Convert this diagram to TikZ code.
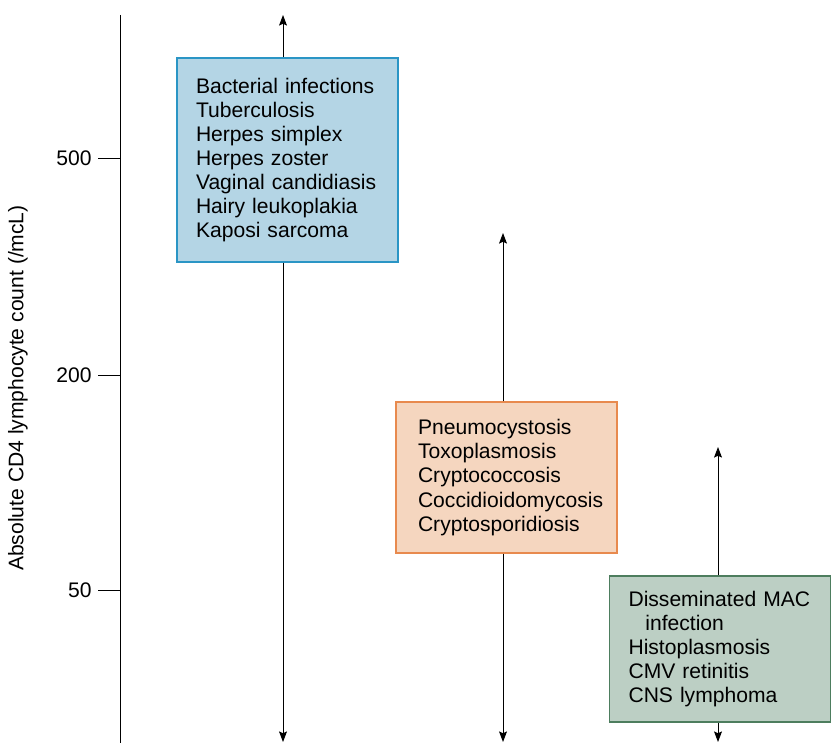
\documentclass[tikz,border=0pt]{standalone}
\usepackage{fontspec}
\setmainfont{Liberation Sans}
\usepackage{tikz}
\usetikzlibrary{arrows.meta, positioning}
\usepackage{xcolor}
\definecolor{earlyfill}{HTML}{B4D5E5}
\definecolor{earlyline}{HTML}{2A95C5}
\definecolor{midfill}{HTML}{F5D6BF}
\definecolor{midline}{HTML}{E88A4E}
\definecolor{latefill}{HTML}{BCCFC4}
\definecolor{lateline}{HTML}{4D7D5E}

\begin{document}
\begin{tikzpicture}[
    x=0.02cm, y=-0.02cm,
    box/.style={draw, line width=0.7pt, minimum width=4.42cm, inner xsep=0.38cm, text width=3.66cm, align=left, font=\fontsize{12}{13.7}\selectfont},
    arr/.style={-{Stealth[length=6pt, width=4.5pt, inset=1pt]}, line width=0.5pt},
    lbl/.style={font=\fontsize{12}{14}\selectfont}
]
\useasboundingbox (0,0) rectangle (834,743);

% axis with ticks
\coordinate (axtop) at (120,15);
\coordinate (axbot) at (120,743);
\draw[line width=0.5pt] (axtop) -- (axbot);
\foreach \y/\v in {158/500, 375/200, 590/50} {
    \coordinate (tick\v) at (98,\y);
    \draw[line width=0.5pt] (tick\v) -- (axtop |- tick\v);
    \node[lbl, anchor=east, inner sep=0pt] (lab\v) at (92,\y) {\v};
}
\node[lbl, rotate=90] (ylabel) at (18,388) {Absolute CD4 lymphocyte count (/mcL)};

% ranges
\node[box, fill=earlyfill, draw=earlyline, minimum height=4.08cm] (early) at (287.5,160) {Bacterial infections\\Tuberculosis\\Herpes simplex\\Herpes zoster\\Vaginal candidiasis\\Hairy leukoplakia\\Kaposi sarcoma};
\node[box, fill=midfill, draw=midline, minimum height=3.02cm, inner xsep=0.44cm, text width=3.54cm] (mid) at (506.5,477.5) {Pneumocystosis\\Toxoplasmosis\\Cryptococcosis\\Coccidioidomycosis\\Cryptosporidiosis};
\node[box, fill=latefill, draw=lateline, minimum height=2.92cm] (late) at (720,649) {Disseminated MAC\\\hspace*{0.8em}infection\\Histoplasmosis\\CMV retinitis\\CNS lymphoma};

\coordinate (early top) at (283,15);
\coordinate (early bot) at (283,742);
\coordinate (mid top) at (503,233);
\coordinate (mid bot) at (503,742);
\coordinate (late top) at (718,447);
\coordinate (late bot) at (718,742);

\draw[arr] (early top |- early.north) -- (early top);
\draw[arr] (early bot |- early.south) -- (early bot);
\draw[arr] (mid top |- mid.north) -- (mid top);
\draw[arr] (mid bot |- mid.south) -- (mid bot);
\draw[arr] (late top |- late.north) -- (late top);
\draw[arr] (late bot |- late.south) -- (late bot);
\end{tikzpicture}
\end{document}
